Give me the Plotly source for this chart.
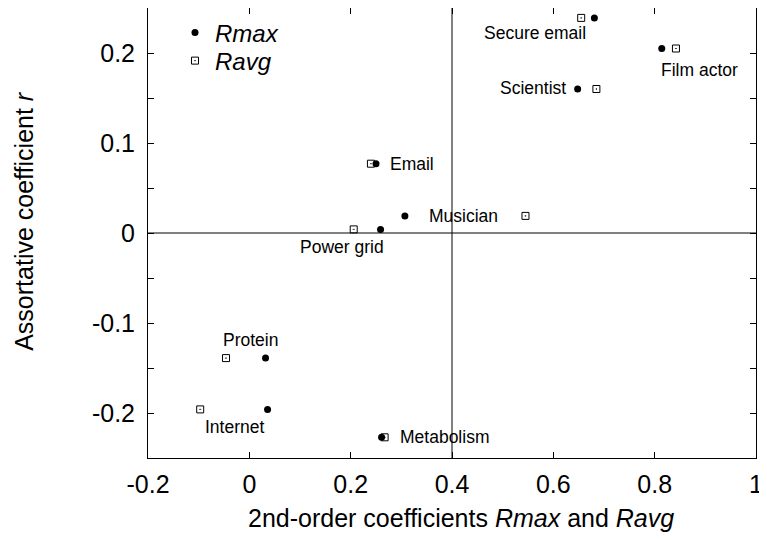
import plotly.graph_objects as go

networks = ["Secure email", "Film actor", "Scientist", "Email", "Musician",
            "Power grid", "Protein", "Internet", "Metabolism"]
r_assort = [0.239, 0.205, 0.160, 0.077, 0.019, 0.004, -0.139, -0.196, -0.227]
r_max = [0.681, 0.814, 0.648, 0.250, 0.307, 0.259, 0.032, 0.036, 0.261]
r_avg = [0.655, 0.842, 0.685, 0.240, 0.545, 0.206, -0.046, -0.097, 0.267]

# label anchor points (data coordinates) for the network names
label_x = [0.563, 0.888, 0.559, 0.322, 0.422, 0.183, 0.003, -0.030, 0.386]
label_y = [0.222, 0.181, 0.161, 0.077, 0.019, -0.016, -0.119, -0.216, -0.227]

x_ticks = [-0.2, 0, 0.2, 0.4, 0.6, 0.8, 1]
x_tick_text = ["-0.2", "0", "0.2", "0.4", "0.6", "0.8", "1"]
y_ticks = [-0.2, -0.1, 0, 0.1, 0.2]
y_tick_text = ["-0.2", "-0.1", "0", "0.1", "0.2"]

x_divider = 0.4
y_divider = 0.0

FONT = "Liberation Sans, Arial, sans-serif"

fig = go.Figure()
fig.add_trace(go.Scatter(
    x=r_max, y=r_assort, mode="markers", name="<i>Rmax</i>", legend="legend",
    marker=dict(symbol="circle", size=7, color="black"),
))
fig.add_trace(go.Scatter(
    x=r_avg, y=r_assort, mode="markers", name="<i>Ravg</i>", legend="legend2",
    marker=dict(symbol="square-open-dot", size=7, color="black",
                line=dict(width=1, color="black")),
))

fig.add_shape(type="line", xref="x", yref="y domain",
              x0=x_divider, x1=x_divider, y0=0, y1=1,
              line=dict(color="black", width=1), layer="below")
fig.add_shape(type="line", xref="x domain", yref="y",
              x0=0, x1=1, y0=y_divider, y1=y_divider,
              line=dict(color="black", width=1), layer="below")

for name, lx, ly in zip(networks, label_x, label_y):
    fig.add_annotation(x=lx, y=ly, text=name, showarrow=False,
                       xanchor="center", yanchor="middle",
                       font=dict(family=FONT, size=17.5, color="black"))

# axis titles
fig.add_annotation(xref="paper", yref="paper", x=0.515, y=-0.133,
                   text="2nd-order coefficients <i>Rmax</i> and <i>Ravg</i>",
                   showarrow=False, xanchor="center", yanchor="middle",
                   font=dict(family=FONT, size=25, color="black"))
fig.add_annotation(xref="paper", yref="paper", x=-0.204, y=0.527,
                   text="Assortative coefficient <i>r</i>", textangle=-90,
                   showarrow=False, xanchor="center", yanchor="middle",
                   font=dict(family=FONT, size=25, color="black"))

axis_common = dict(
    showgrid=False, zeroline=False, showline=True, linecolor="black",
    linewidth=1, mirror="ticks", ticks="inside", ticklen=6,
    tickcolor="black", tickfont=dict(family=FONT, size=25, color="black"),
)

fig.update_xaxes(range=[-0.2, 1.0], tickvals=x_ticks, ticktext=x_tick_text,
                 ticklabelstandoff=4, **axis_common)
fig.update_yaxes(range=[-0.25, 0.25], tickvals=y_ticks, ticktext=y_tick_text,
                 ticklabelstandoff=7,
                 minor=dict(dtick=0.05, tick0=0, ticks="inside", ticklen=6,
                            tickcolor="black"),
                 **axis_common)

legend_common = dict(xanchor="left", yanchor="middle",
                     bgcolor="rgba(0,0,0,0)", borderwidth=0,
                     font=dict(family=FONT, size=24, color="black"),
                     itemsizing="trace")
fig.update_layout(
    width=759, height=532,
    margin=dict(l=140, r=11, t=0, b=82),
    plot_bgcolor="white", paper_bgcolor="white",
    showlegend=True,
    legend=dict(x=0.0444, y=0.9444, **legend_common),
    legend2=dict(x=0.0444, y=0.8822, **legend_common),
)

fig.write_html("out.html")
